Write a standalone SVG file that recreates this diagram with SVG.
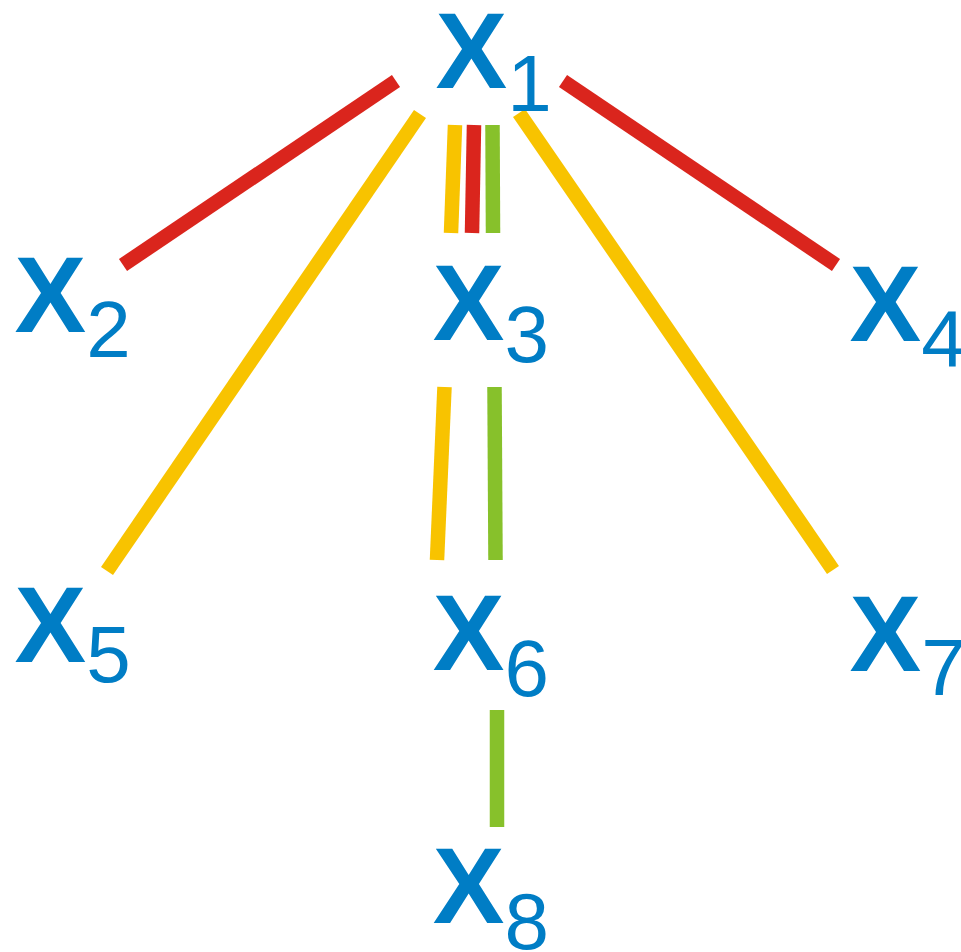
<svg xmlns="http://www.w3.org/2000/svg" width="961" height="952" viewBox="0 0 961 952">
<style>
.lbl{font-family:"Liberation Sans",Arial,sans-serif;font-weight:bold;font-size:107.5px;fill:#007DC5}
.sub{font-weight:normal;font-size:80px}
.e{stroke-width:14.5;stroke-linecap:butt;fill:none}
.r{stroke:#DA251D}.y{stroke:#F8C300}.g{stroke:#87C12B}
</style>
<rect width="961" height="952" fill="#fff"/>
<g id="connectors">
<line class="e r" x1="396" y1="81" x2="123" y2="265"/>
<line class="e r" x1="563" y1="81" x2="836" y2="265"/>
<line class="e y" x1="420" y1="114" x2="107" y2="571"/>
<line class="e y" x1="519" y1="113" x2="833" y2="570"/>
<line class="e y" x1="455" y1="125" x2="451" y2="233"/>
<line class="e r" x1="474" y1="125" x2="472" y2="233"/>
<line class="e g" x1="492.5" y1="125" x2="493" y2="233"/>
<line class="e y" x1="444.5" y1="387" x2="437" y2="560"/>
<line class="e g" x1="494.5" y1="387" x2="495.5" y2="560"/>
<line class="e g" x1="497" y1="710" x2="497" y2="827"/>
</g>
<g id="x1"><text class="lbl" x="435.5" y="88">X<tspan class="sub" dy="23">1</tspan></text></g>
<g id="x2"><text class="lbl" x="14.5" y="332">X<tspan class="sub" dy="25">2</tspan></text></g>
<g id="x3"><text class="lbl" x="432.8" y="340">X<tspan class="sub" dy="22">3</tspan></text></g>
<g id="x4"><text class="lbl" x="849.5" y="341">X<tspan class="sub" dy="25">4</tspan></text></g>
<g id="x5"><text class="lbl" x="14.5" y="662">X<tspan class="sub" dy="20">5</tspan></text></g>
<g id="x6"><text class="lbl" x="432.8" y="670">X<tspan class="sub" dy="26">6</tspan></text></g>
<g id="x7"><text class="lbl" x="849.5" y="671">X<tspan class="sub" dy="24">7</tspan></text></g>
<g id="x8"><text class="lbl" x="432.8" y="923">X<tspan class="sub" dy="26">8</tspan></text></g>
</svg>
